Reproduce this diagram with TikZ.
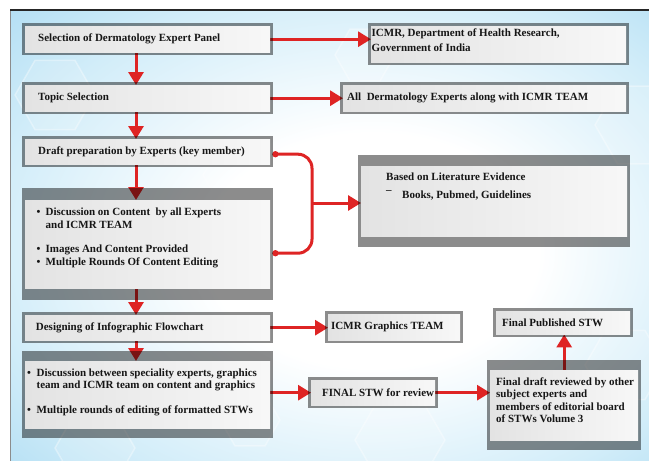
\documentclass[tikz,border=0pt]{standalone}
\usepackage{fontspec}
\setmainfont{Liberation Serif}
\usetikzlibrary{arrows.meta}
\definecolor{stwred}{RGB}{222,36,36}
\definecolor{bglight}{RGB}{210,237,249}
\definecolor{bgbot}{RGB}{132,201,236}
\definecolor{inkgray}{RGB}{22,22,22}
\pgfdeclareradialshading{stwbg}{\pgfpoint{4bp}{-2bp}}{color(0bp)=(white); color(13bp)=(white);
  color(29bp)=(bglight); color(52bp)=(bgbot); color(80bp)=(bgbot)}
\pgfdeclarelayer{bg}
\pgfdeclarelayer{arrows}
\pgfdeclarelayer{frames}
\pgfsetlayers{bg,arrows,frames,main}
% one line of text, left aligned in a box of given width
\newcommand{\rowtext}[3]{\makebox[#1][l]{\hspace*{#2}#3}}
% text block hung from the top of a box of given height
\newcommand{\toptext}[4]{\parbox[c][#1][t]{#2}{\vspace*{#3}#4}}

\begin{document}
\begin{tikzpicture}[x=1pt, y=-1pt, line join=round,
  stwbox/.style={anchor=north west, inner sep=0pt, left color=black!11, right color=black!3,
    text=inkgray, font=\fontsize{11pt}{12.4pt}\selectfont\bfseries},
  boxframe/.style={fill=black, fill opacity=0.45},
  flow/.style={draw=stwred, line width=3pt, -{Triangle[length=13pt,width=15pt]}},
  brace/.style={draw=stwred, line width=3pt, rounded corners=14pt},
  hexa/.style={draw=white, line width=1.5pt, draw opacity=0.35, fill=white, fill opacity=0.14}]
\useasboundingbox (0,0) rectangle (649,461);

% background
\begin{pgfonlayer}{bg}
\shade[shading=stwbg] (10,10) rectangle (649,461);
\foreach \cx/\cy/\r in {55/95/40, 235/175/32, 640/125/45, 95/448/40, 400/440/45, 625/365/40, 365/55/30, 520/265/35, 250/420/30}
  \draw[hexa] (\cx,\cy) +(0:\r) -- +(60:\r) -- +(120:\r) -- +(180:\r) -- +(240:\r) -- +(300:\r) -- cycle;
\draw[black!45, line width=1pt] (10,461) -- (10,10);
\draw[black!85, line width=1.2pt] (10,10) -- (649,10);
\end{pgfonlayer}

% left column
\node[stwbox, minimum height=26pt] (b1) at (25,26) {\rowtext{245pt}{13pt}{Selection of Dermatology Expert Panel}};
\node[stwbox, minimum height=26pt] (b2) at (25,85) {\rowtext{245pt}{13pt}{Topic Selection}};
\node[stwbox, minimum height=25pt] (b3) at (25,139) {\rowtext{245pt}{13pt}{Draft preparation by Experts (key member)}};
\node[stwbox] (b4) at (25,200) {\toptext{88pt}{245pt}{7pt}{%
  \begin{tabular}[t]{@{\hspace{11.5pt}}p{9pt}@{}l@{}}
  \textbullet & Discussion on Content\ \ by all Experts\\
   & and ICMR TEAM\\[11.6pt]
  \textbullet & Images And Content Provided\\[1pt]
  \textbullet & Multiple Rounds Of Content Editing
  \end{tabular}}};
\node[stwbox, minimum height=25pt] (b5) at (25,315) {\rowtext{245pt}{10.7pt}{Designing of Infographic Flowchart}};
\node[stwbox] (b6) at (25,361) {\toptext{67pt}{245pt}{6.5pt}{%
  \begin{tabular}[t]{@{\hspace{2pt}}p{9.5pt}@{}l@{}}
  \textbullet & Discussion between speciality experts, graphics\\
   & team and ICMR team on content and graphics\\[12pt]
  \textbullet & Multiple rounds of editing of formatted STWs
  \end{tabular}}};

% right column
\node[stwbox] (r1) at (371,26) {\toptext{36pt}{255pt}{2.1pt}{%
  \begin{tabular}[t]{@{\hspace{0.5pt}}l@{}}
  ICMR, Department of Health Research,\\[2.6pt]
  Government of India
  \end{tabular}}};
\node[stwbox, minimum height=26pt] (r2) at (343,85) {\rowtext{283pt}{4pt}{All\ \ Dermatology Experts along with ICMR TEAM}};
\node[stwbox] (r3) at (361,166) {\toptext{70pt}{266pt}{5.8pt}{%
  \begin{tabular}[t]{@{\hspace{25pt}}l@{}}
  Based on Literature Evidence\\[5.6pt]
  \makebox[16pt][l]{\raisebox{5pt}{–}}Books, Pubmed, Guidelines
  \end{tabular}}};
\node[stwbox, minimum height=26pt] (r4) at (328,314) {\rowtext{132pt}{3pt}{ICMR Graphics TEAM}};
\node[stwbox, minimum height=25pt] (r5) at (311,380) {\rowtext{124pt}{11pt}{FINAL STW for review}};
\node[stwbox, minimum height=23pt] (r6) at (496,311) {\rowtext{134pt}{6pt}{Final Published STW}};
\node[stwbox] (r7) at (490,370) {\toptext{70pt}{148pt}{6.6pt}{%
  \begin{tabular}[t]{@{\hspace{6pt}}l@{}}
  Final draft reviewed by other\\
  subject experts and\\
  members of editorial board\\
  of STWs Volume 3
  \end{tabular}}};

% frames round the boxes
\begin{pgfonlayer}{frames}
\foreach \n/\fx/\fy in {b1/3pt/3pt, b2/3pt/3pt, b3/3pt/3pt, b4/3pt/12pt, b5/3pt/3pt, b6/3pt/10pt,
    r1/3pt/3pt, r2/3pt/3pt, r3/3pt/11pt, r4/3pt/3pt, r5/3pt/3pt, r6/3pt/3pt, r7/3pt/10pt}
  \fill[boxframe] ([shift={(-\fx,-\fy)}]\n.south west) rectangle ([shift={(\fx,\fy)}]\n.north east);
\end{pgfonlayer}

% connectors
\coordinate (spine) at (136,0);
\coordinate (brc) at (312,203);
\coordinate (d1) at ([xshift=5pt,yshift=-2.5pt]b3.east);
\coordinate (d2) at ([xshift=5pt,yshift=-9pt]b4.east);
\begin{pgfonlayer}{arrows}
\foreach \a/\b in {b1/b2, b2/b3, b3/b4, b4/b5, b5/b6}
  \draw[flow] (\a.south -| spine) -- (\b.north -| spine);
\draw[flow] (b1.east) -- (b1.east -| r1.west);
\draw[flow] (b2.east) -- (b2.east -| r2.west);
\draw[flow] (b5.east) -- (b5.east -| r4.west);
\draw[flow] (r5.west -| b6.east) -- (r5.west);
\draw[flow] (r5.east) -- (r5.east -| r7.west);
\draw[flow] (r7.north) -- (r7.north |- r6.south);
\draw[brace] (d1) -- (d1 -| brc) -- (d2 -| brc) -- (d2);
\fill[stwred] (d1) circle (3.2pt) (d2) circle (3.2pt);
\draw[flow] (brc) -- (brc -| r3.west);
\end{pgfonlayer}
\end{tikzpicture}
\end{document}
